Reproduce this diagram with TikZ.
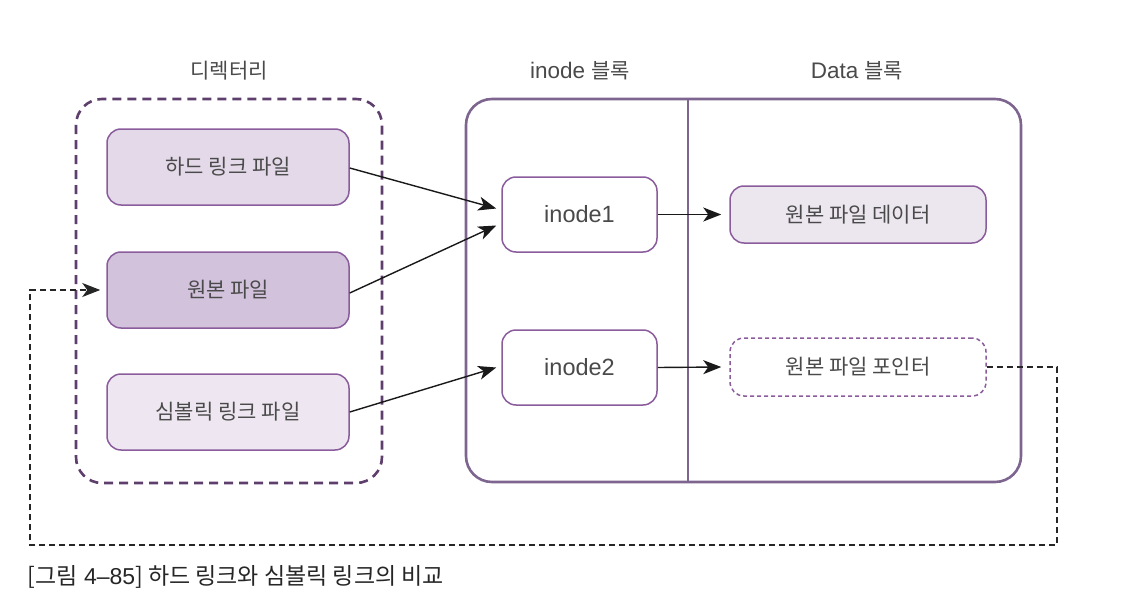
\documentclass[tikz,border=0pt]{standalone}
\usepackage{fontspec}
\setmainfont{Liberation Sans}
\newfontfamily\kr{Noto Sans CJK KR}
\usetikzlibrary{arrows.meta}
\definecolor{dirline}{HTML}{5E3E6C}
\definecolor{bigline}{HTML}{7E6590}
\definecolor{nodeline}{HTML}{8A5C9C}
\definecolor{fillA}{HTML}{E3D9E9}
\definecolor{fillB}{HTML}{D2C2DC}
\definecolor{fillC}{HTML}{EEE7F1}
\definecolor{fillD}{HTML}{ECE6EF}
\definecolor{txt}{HTML}{4A4A4A}
\tikzset{
  box/.style={draw=nodeline, line width=1.5pt, rounded corners=14pt, text=txt, font=\kr\fontsize{21}{24}\selectfont},
  lbl/.style={text=txt, font=\fontsize{22.5}{26}\selectfont},
  arr/.style={-{Stealth[length=18pt,width=14pt,inset=5pt]}, line width=1.4pt, black!90},
  darr/.style={-{Stealth[length=18pt,width=14pt,inset=5pt]}, line width=1.3pt, black!85, dash pattern=on 6pt off 4pt},
}
\begin{document}
\begin{tikzpicture}[x=1pt,y=-1pt]
\useasboundingbox (0,0) rectangle (1144,610);
% containers
\draw[dirline, line width=2.6pt, dash pattern=on 9pt off 6pt, rounded corners=26pt] (76,99) rectangle (382,483);
\draw[bigline, line width=2.6pt, rounded corners=26pt] (466,99) rectangle (1021,482);
\draw[bigline, line width=1.4pt] (688,99) -- (688,482);
% titles
\node[lbl, font=\kr\fontsize{21}{24}\selectfont] (tdir) at (229,71) {디렉터리};
\node[lbl] (tino) at (580,71) {inode {\kr\fontsize{21}{24}\selectfont 블록}};
\node[lbl] (tdat) at (857,71) {Data {\kr\fontsize{21}{24}\selectfont 블록}};
% file nodes
\node[box, fill=fillA, minimum width=242pt, minimum height=76pt] (hard) at (228,167) {하드 링크 파일};
\node[box, fill=fillB, minimum width=242pt, minimum height=76pt] (orig) at (228,290) {원본 파일};
\node[box, fill=fillC, minimum width=242pt, minimum height=76pt] (sym) at (228,412) {심볼릭 링크 파일};
% inode nodes
\node[box, fill=white, minimum width=155pt, minimum height=75pt, font=\fontsize{23.5}{26}\selectfont] (ino1) at (579.5,214.5) {inode1};
\node[box, fill=white, minimum width=155pt, minimum height=75pt, font=\fontsize{23.5}{26}\selectfont] (ino2) at (579.5,367.5) {inode2};
% data nodes
\node[box, fill=fillD, minimum width=256pt, minimum height=57pt] (data) at (858,214.5) {원본 파일 데이터};
\node[box, fill=white, dash pattern=on 4pt off 3pt, minimum width=256pt, minimum height=58pt] (ptr) at (858,367) {원본 파일 포인터};
% arrows
\draw[arr] ([yshift=-1pt]hard.east) -- ([xshift=-5pt,yshift=6pt]ino1.west);
\draw[arr] ([yshift=-3pt]orig.east) -- ([xshift=-5pt,yshift=-11pt]ino1.west);
\draw[arr] (sym.east) -- ([xshift=-5pt]ino2.west);
\draw[arr] (ino1.east) -- ([xshift=-8pt]data.west);
\draw[arr] (ino2.east) -- ([xshift=-8pt]ptr.west);
% dashed back link
\coordinate (c1) at (1057,367);
\coordinate (c2) at (1057,545);
\coordinate (c3) at (30,545);
\coordinate (c4) at (30,290);
\draw[darr] (ptr.east) -- (c1) -- (c2) -- (c3) -- (c4) -- ([xshift=-6pt]orig.west);
% caption
\node[anchor=west, text=black!85, font=\fontsize{23}{26}\selectfont] (cap) at (24,577) {{\kr [그림} 4–85{\kr ] 하드 링크와 심볼릭 링크의 비교}};
\end{tikzpicture}
\end{document}
